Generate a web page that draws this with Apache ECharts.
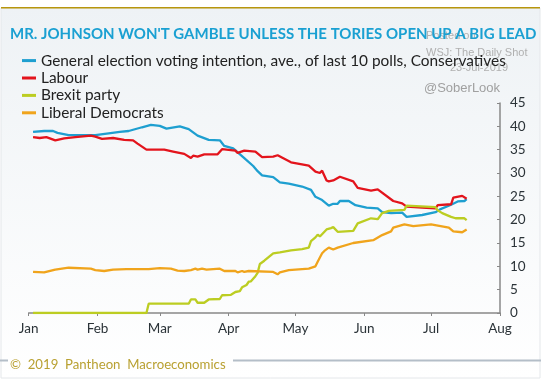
<!DOCTYPE html>
<html><head><meta charset="utf-8">
<script src="https://cdn.jsdelivr.net/npm/echarts@6/dist/echarts.min.js"></script>
<style>html,body{margin:0;padding:0;background:#fff}#c{width:541px;height:379px}</style>
</head><body><div id="c"></div>
<script>
const seriesNames = ["General election voting intention, ave., of last 10 polls, Conservatives", "Labour", "Brexit party", "Liberal Democrats"];
const monthLabels = ["Jan","Feb","Mar","Apr","May","Jun","Jul","Aug"];
const yTicks = [0,5,10,15,20,25,30,35,40,45];

const conservatives = [
["2019-01-03",38.8],["2019-01-08",39.0],["2019-01-12",39.0],["2019-01-14",38.6],["2019-01-19",38.1],["2019-01-31",38.1],
["2019-02-06",38.5],["2019-02-11",38.8],["2019-02-15",39.0],["2019-02-21",39.8],["2019-02-25",40.3],["2019-03-01",40.1],
["2019-03-04",39.5],["2019-03-10",40.0],["2019-03-14",39.4],["2019-03-18",38.0],["2019-03-23",37.1],["2019-03-28",37.0],
["2019-03-30",35.8],["2019-04-03",35.3],["2019-04-08",33.2],["2019-04-12",31.5],["2019-04-14",30.4],["2019-04-16",29.5],
["2019-04-21",29.1],["2019-04-24",28.0],["2019-04-28",27.7],["2019-05-04",27.1],["2019-05-08",26.4],["2019-05-10",24.9],
["2019-05-13",24.2],["2019-05-16",23.0],["2019-05-18",23.4],["2019-05-20",23.4],["2019-05-21",24.0],["2019-05-25",24.0],
["2019-05-28",23.1],["2019-06-02",22.6],["2019-06-07",22.4],["2019-06-09",21.6],["2019-06-13",21.4],["2019-06-18",21.5],
["2019-06-20",20.6],["2019-06-27",21.0],["2019-07-03",21.6],["2019-07-05",22.2],["2019-07-10",23.2],["2019-07-13",23.9],
["2019-07-16",24.0],["2019-07-17",24.4]
];
const labour = [
["2019-01-03",37.7],["2019-01-06",37.5],["2019-01-09",37.7],["2019-01-13",37.0],["2019-01-17",37.4],["2019-01-22",37.7],
["2019-01-29",38.0],["2019-01-31",37.8],["2019-02-03",37.3],["2019-02-08",37.5],["2019-02-13",37.1],["2019-02-17",37.0],
["2019-02-19",36.3],["2019-02-23",35.0],["2019-03-03",35.0],["2019-03-07",34.6],["2019-03-12",34.1],["2019-03-15",33.2],
["2019-03-16",33.7],["2019-03-18",33.5],["2019-03-21",34.0],["2019-03-27",34.0],["2019-03-29",35.1],["2019-04-04",34.8],
["2019-04-05",34.3],["2019-04-08",34.8],["2019-04-13",34.6],["2019-04-16",33.4],["2019-04-21",33.5],["2019-04-23",33.8],
["2019-04-29",32.3],["2019-05-07",31.6],["2019-05-10",30.3],["2019-05-12",30.0],["2019-05-13",30.5],["2019-05-15",28.4],
["2019-05-16",28.2],["2019-05-18",28.4],["2019-05-21",29.2],["2019-05-27",28.2],["2019-05-29",26.8],["2019-06-04",26.2],
["2019-06-07",26.5],["2019-06-14",24.0],["2019-06-18",23.5],["2019-06-20",22.8],["2019-06-27",22.6],["2019-07-03",22.4],
["2019-07-04",23.1],["2019-07-10",23.3],["2019-07-11",24.7],["2019-07-15",25.1],["2019-07-17",24.5]
];
const brexit = [
["2019-01-03",0],["2019-02-23",0],["2019-02-24",2.0],["2019-03-14",2.0],["2019-03-15",2.9],["2019-03-17",2.9],
["2019-03-18",2.2],["2019-03-21",2.2],["2019-03-23",2.9],["2019-03-28",3.0],["2019-03-29",3.8],["2019-04-02",3.9],
["2019-04-04",4.5],["2019-04-06",4.7],["2019-04-07",5.5],["2019-04-09",6.0],["2019-04-10",6.7],["2019-04-11",6.8],
["2019-04-13",7.9],["2019-04-14",8.6],["2019-04-15",10.5],["2019-04-17",11.2],["2019-04-21",12.8],["2019-04-24",13.0],
["2019-04-29",13.4],["2019-05-04",13.7],["2019-05-07",14.0],["2019-05-08",15.4],["2019-05-10",16.2],["2019-05-11",16.8],
["2019-05-12",16.4],["2019-05-15",17.9],["2019-05-17",18.2],["2019-05-18",18.4],["2019-05-20",17.4],["2019-05-27",17.6],
["2019-05-29",19.2],["2019-06-04",20.3],["2019-06-07",20.1],["2019-06-09",21.4],["2019-06-12",21.9],["2019-06-19",22.1],
["2019-06-20",23.0],["2019-07-03",22.7],["2019-07-04",22.0],["2019-07-06",21.4],["2019-07-10",20.6],["2019-07-12",20.3],
["2019-07-16",20.3],["2019-07-17",19.9]
];
const libDems = [
["2019-01-03",8.8],["2019-01-08",8.7],["2019-01-13",9.3],["2019-01-19",9.7],["2019-01-29",9.5],["2019-01-31",9.2],
["2019-02-04",9.0],["2019-02-08",9.3],["2019-02-14",9.4],["2019-02-24",9.4],["2019-03-01",9.6],["2019-03-06",9.5],
["2019-03-09",9.1],["2019-03-12",9.0],["2019-03-15",9.2],["2019-03-17",9.5],["2019-03-18",9.3],["2019-03-20",9.5],
["2019-03-22",9.3],["2019-03-28",9.5],["2019-03-30",9.0],["2019-04-04",9.0],["2019-04-05",8.7],["2019-04-07",9.0],
["2019-04-08",8.8],["2019-04-10",9.0],["2019-04-21",8.8],["2019-04-23",8.3],["2019-04-24",8.7],["2019-04-28",9.2],
["2019-05-07",9.5],["2019-05-10",10.0],["2019-05-11",11.0],["2019-05-13",12.8],["2019-05-14",13.3],["2019-05-16",14.0],
["2019-05-18",13.6],["2019-05-20",14.0],["2019-05-27",15.0],["2019-06-05",15.6],["2019-06-09",16.7],["2019-06-13",17.5],
["2019-06-14",18.3],["2019-06-19",19.0],["2019-06-23",18.6],["2019-07-01",19.0],["2019-07-09",18.3],["2019-07-11",17.5],
["2019-07-15",17.3],["2019-07-17",17.9]
];
const colors = ["#1e9fd0","#e3141c","#bccd22","#f0a41c"];
const allData = [conservatives, labour, brexit, libDems];

const chart = echarts.init(document.getElementById('c'), null, {renderer:'canvas'});
const font = 'Lato, "Noto Sans", sans-serif';
chart.setOption({
  animation:false,
  color: colors,
  graphic: [
    {type:'rect', silent:true, z:-10, shape:{x:0,y:0,width:541,height:379}, style:{fill:'#ffffff'}},
    {type:'rect', silent:true, z:-9, shape:{x:1,y:8,width:539,height:370},
      style:{fill:new echarts.graphic.LinearGradient(0,0,0,1,[{offset:0,color:'#eef2f5'},{offset:1,color:'#ffffff'}]), stroke:'#e4e7ea', lineWidth:1}},
    {type:'rect', silent:true, z:-8, shape:{x:1,y:7,width:539,height:1.5}, style:{fill:'#b8960c'}},
    {type:'line', silent:true, shape:{x1:0,y1:360.5,x2:8,y2:360.5}, style:{stroke:'#b4bec8', lineWidth:2}},
    {type:'line', silent:true, shape:{x1:233,y1:360.5,x2:541,y2:360.5}, style:{stroke:'#b4bec8', lineWidth:2}},
    {type:'text', silent:true, left:10, top:358, style:{text:'\u00a9  2019  Pantheon  Macroeconomics', fill:'#b9a132', font:'13.2px '+font}},
    {type:'text', silent:true, left:426, top:30, style:{text:'Posted on', fill:'#b0b0b0', font:'11px "Liberation Sans", sans-serif'}},
    {type:'text', silent:true, left:426, top:47, style:{text:'WSJ: The Daily Shot', fill:'#b0b0b0', font:'11px "Liberation Sans", sans-serif'}},
    {type:'text', silent:true, right:33, top:62, style:{text:'23-Jul-2019', fill:'#b0b0b0', font:'11px "Liberation Sans", sans-serif', align:'right'}},
    {type:'text', silent:true, left:424, top:82, style:{text:'@SoberLook', fill:'#a0a0a0', font:'13px "Liberation Sans", sans-serif'}}
  ],
  title: {
    text: "MR. JOHNSON WON'T GAMBLE UNLESS THE TORIES OPEN UP A BIG LEAD",
    left: 10, top: 27, padding: 0,
    textStyle: {color:'#1aa0d2', fontSize:15, fontWeight:'bold', fontFamily: font}
  },
  legend: {
    orient:'vertical', left:22, top:53, padding:0,
    itemWidth:14, itemHeight:3, itemGap:2.2, icon:'rect',
    textStyle:{color:'#222', fontSize:15.4, lineHeight:15.2, fontFamily: font, padding:[0,0,0,0]},
    data: seriesNames
  },
  grid: {left:28.6, right:41, top:103, bottom:66},
  xAxis: {
    type:'time', min:'2019-01-01', max:'2019-08-01',
    minInterval: 28*86400000, maxInterval: 31*86400000,
    axisLine:{lineStyle:{color:'#888', width:1.5}},
    axisTick:{show:true, length:3, lineStyle:{color:'#888'}},
    splitLine:{show:false},
    axisLabel:{color:'#2b3338', fontSize:13.5, fontFamily:font, margin:9, showMinLabel:true, showMaxLabel:true,
      formatter: function(v){ return monthLabels[new Date(v).getMonth()]; }}
  },
  yAxis: {
    type:'value', position:'right', min:yTicks[0], max:yTicks[yTicks.length-1], interval:5,
    axisLine:{show:true, lineStyle:{color:'#888', width:1.5}},
    axisTick:{show:true, inside:true, length:3, lineStyle:{color:'#888'}},
    splitLine:{show:false},
    axisLabel:{color:'#2b3338', fontSize:13.5, fontFamily:font, margin:10}
  },
  series: allData.map((d,i)=>({
    name: seriesNames[i], type:'line', data:d, showSymbol:false, symbol:'none',
    lineStyle:{width:2.3, color:colors[i]}, itemStyle:{color:colors[i]}
  }))
});
</script></body></html>
